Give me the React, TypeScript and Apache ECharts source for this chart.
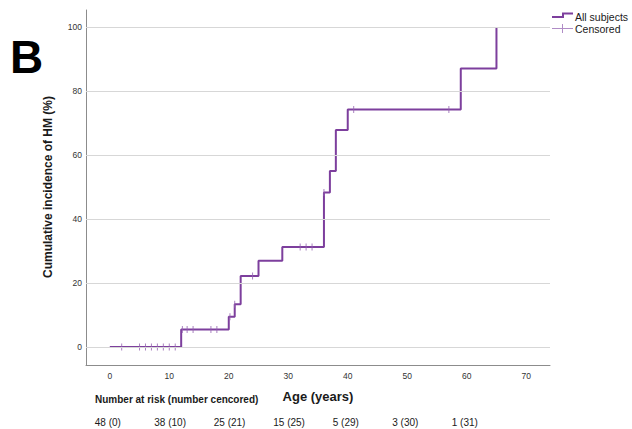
import React, { useEffect, useRef } from "react";
import * as echarts from "echarts";

const ages = [0, 12, 20, 21, 22, 25, 29, 36, 37, 38, 40, 59, 65];
const incidence = [0, 5.5, 9.5, 13.4, 22.2, 27.0, 31.3, 48.3, 55.0, 67.8, 74.2, 87.0, 100];
const censoredAges = [2, 5, 6, 7, 8, 9, 10, 11, 12.2, 13, 14, 17, 18, 20.2, 21, 24, 32, 33, 34, 36, 41, 57];
const censoredLevels = [0, 0, 0, 0, 0, 0, 0, 0, 5.5, 5.5, 5.5, 5.5, 5.5, 9.5, 13.4, 22.2, 31.3, 31.3, 31.3, 48.3, 74.2, 74.2];
const xTicks = [0, 10, 20, 30, 40, 50, 60, 70];
const yTicks = [0, 20, 40, 60, 80, 100];
const riskAges = [0, 10, 20, 30, 40, 50, 60];
const riskLabels = ["48 (0)", "38 (10)", "25 (21)", "15 (25)", "5 (29)", "3 (30)", "1 (31)"];

const PURPLE = "#7d3f9d";
const CENSOR = "#9463b0";
const FONT = "Liberation Sans, Arial, sans-serif";

export default function App() {
  const ref = useRef<HTMLDivElement>(null);
  useEffect(() => {
    if (!ref.current) return;
    const chart = echarts.init(ref.current, null, { renderer: "svg" });
    const option: any = {
      animation: false,
      backgroundColor: "#ffffff",
      grid: { left: 86, right: 82, top: 10, bottom: 64 },
      xAxis: {
        type: "value",
        min: -4,
        max: 74,
        axisLine: { show: true, onZero: false, lineStyle: { color: "#8c8c8c", width: 1 } },
        axisTick: { show: false },
        splitLine: { show: false },
        axisLabel: {
          customValues: xTicks,
          color: "#333",
          fontSize: 8.5,
          fontFamily: FONT,
          margin: 6,
        },
      },
      yAxis: {
        type: "value",
        min: -5.6,
        max: 105.3,
        axisLine: { show: true, onZero: false, lineStyle: { color: "#8c8c8c", width: 1 } },
        axisTick: { show: false },
        splitLine: { show: false },
        axisLabel: {
          customValues: yTicks,
          color: "#333",
          fontSize: 8.5,
          fontFamily: FONT,
          margin: 4,
        },
      },
      series: [
        {
          type: "line",
          data: [],
          z: 1,
          silent: true,
          markLine: {
            silent: true,
            symbol: "none",
            label: { show: false },
            lineStyle: { color: "#d7d7d7", width: 1, type: "solid" },
            data: yTicks.map((v) => ({ yAxis: v })),
          },
        },
        {
          type: "line",
          step: "end",
          z: 3,
          showSymbol: false,
          data: ages.map((a, i) => [a, incidence[i]]),
          lineStyle: { color: PURPLE, width: 2 },
          itemStyle: { color: PURPLE },
        },
        {
          type: "scatter",
          z: 4,
          symbol: "rect",
          symbolSize: [1, 7],
          data: censoredAges.map((a, i) => [a, censoredLevels[i]]),
          itemStyle: { color: CENSOR },
        },
      ],
    };
    chart.setOption(option);

    const riskTexts = riskAges.map((a, i) => {
      const px = chart.convertToPixel({ xAxisIndex: 0 }, a) as number;
      return {
        type: "text",
        left: px - 15,
        top: 417,
        style: { text: riskLabels[i], fontSize: 10, fontFamily: FONT, fill: "#1a1a1a" },
      };
    });

    chart.setOption({
      graphic: [
        {
          type: "text",
          left: 10,
          top: 34,
          style: { text: "B", fontSize: 46, fontWeight: "bold", fontFamily: FONT, fill: "#000" },
        },
        {
          type: "text",
          x: 48,
          y: 187,
          rotation: Math.PI / 2,
          style: {
            text: "Cumulative incidence of HM (%)",
            fontSize: 12,
            fontWeight: "bold",
            fontFamily: FONT,
            fill: "#1a1a1a",
            align: "center",
            verticalAlign: "middle",
          },
        },
        {
          type: "text",
          x: 318,
          y: 396,
          style: {
            text: "Age (years)",
            fontSize: 13,
            fontWeight: "bold",
            fontFamily: FONT,
            fill: "#1a1a1a",
            align: "center",
            verticalAlign: "middle",
          },
        },
        {
          type: "text",
          left: 95,
          top: 394,
          style: {
            text: "Number at risk (number cencored)",
            fontSize: 10,
            fontWeight: "bold",
            fontFamily: FONT,
            fill: "#1a1a1a",
          },
        },
        ...riskTexts,
        {
          type: "polyline",
          shape: { points: [[552, 17], [563, 17], [563, 13.5], [573, 13.5]] },
          style: { stroke: PURPLE, lineWidth: 2, fill: "none" },
        },
        {
          type: "line",
          shape: { x1: 552, y1: 28.5, x2: 573, y2: 28.5 },
          style: { stroke: "#b08cc6", lineWidth: 1 },
        },
        {
          type: "line",
          shape: { x1: 562.5, y1: 24, x2: 562.5, y2: 33 },
          style: { stroke: "#b08cc6", lineWidth: 1 },
        },
        {
          type: "text",
          left: 575,
          top: 11,
          style: { text: "All subjects", fontSize: 10.5, fontFamily: FONT, fill: "#1a1a1a" },
        },
        {
          type: "text",
          left: 575,
          top: 23,
          style: { text: "Censored", fontSize: 10.5, fontFamily: FONT, fill: "#1a1a1a" },
        },
      ],
    });

    return () => chart.dispose();
  }, []);
  return (
    <div
      ref={ref}
      style={{ position: "absolute", left: 0, top: 0, width: 632, height: 429 }}
    />
  );
}
